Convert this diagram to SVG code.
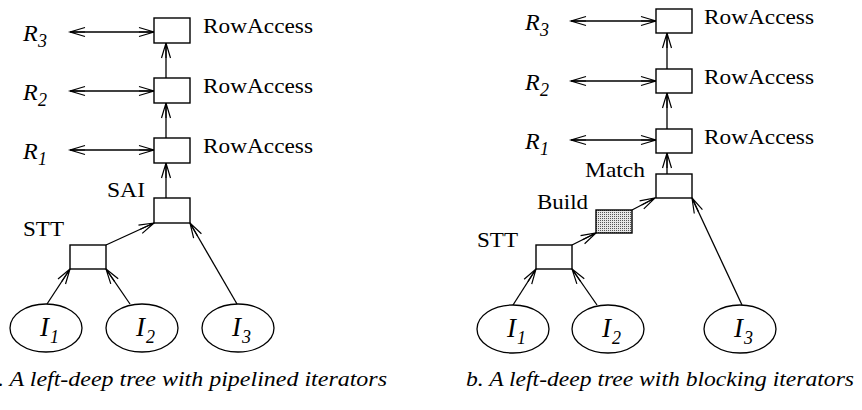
<svg xmlns="http://www.w3.org/2000/svg" width="862" height="410" viewBox="0 0 862 410">
<style>
.box{fill:#fff;stroke:#000;stroke-width:1.4}
.ell{fill:#fff;stroke:#000;stroke-width:1.3}
.con{fill:none;stroke:#000;stroke-width:1.3}
.arr{marker-end:url(#ah)}
.dbl{marker-start:url(#ah);marker-end:url(#ah)}
.t{font-size:22px}
.it{font-size:24px;font-style:italic}
.big{font-size:27px;font-style:italic}
.sub{font-size:18px;font-style:italic}
.cap{font-size:22px;font-style:italic}
</style>
<defs>
<marker id="ah" markerUnits="userSpaceOnUse" markerWidth="20" markerHeight="12" refX="0" refY="0" viewBox="-16 -6 20 12" orient="auto-start-reverse" overflow="visible">
<path d="M-15,-4.5 L0,0 L-15,4.5 M-15,0 L0,0" fill="none" stroke="#000" stroke-width="1.2"/>
</marker>
<pattern id="dots" width="2" height="2" patternUnits="userSpaceOnUse">
<rect width="2" height="2" fill="#e6e6e6"/>
<rect width="1" height="1" fill="#555"/>
</pattern>
</defs>
<rect width="862" height="410" fill="#fff"/>

<g id="connectors">
<line class="con dbl" x1="70" y1="32" x2="154" y2="32"/>
<line class="con dbl" x1="70" y1="91" x2="154" y2="91"/>
<line class="con dbl" x1="70" y1="150" x2="154" y2="150"/>
<line class="con arr" x1="166" y1="78" x2="166" y2="43"/>
<line class="con arr" x1="166" y1="138" x2="166" y2="103"/>
<line class="con arr" x1="166" y1="198" x2="166" y2="163"/>
<line class="con arr" x1="106" y1="245" x2="154" y2="223"/>
<line class="con arr" x1="237" y1="304" x2="190" y2="223"/>
<line class="con arr" x1="47" y1="304" x2="70" y2="269"/>
<line class="con arr" x1="130" y1="304" x2="106" y2="269"/>
<line class="con dbl" x1="571" y1="21" x2="656" y2="21"/>
<line class="con dbl" x1="571" y1="81" x2="656" y2="81"/>
<line class="con dbl" x1="571" y1="140" x2="656" y2="140"/>
<line class="con arr" x1="667" y1="69" x2="667" y2="33"/>
<line class="con arr" x1="667" y1="129" x2="667" y2="93"/>
<line class="con arr" x1="667" y1="174" x2="667" y2="153"/>
<line class="con arr" x1="632" y1="210" x2="655" y2="198"/>
<line class="con arr" x1="572" y1="245" x2="596" y2="233"/>
<line class="con arr" x1="742" y1="305" x2="692" y2="198"/>
<line class="con arr" x1="513" y1="305" x2="536" y2="269"/>
<line class="con arr" x1="597" y1="305" x2="572" y2="269"/>
</g>

<g font-family="Liberation Serif, Times New Roman, Times, DejaVu Serif, serif" fill="#000">
<g id="a-R3"><text class="it" x="23" y="41">R</text><text class="sub" x="38" y="47">3</text></g>
<g id="a-R2"><text class="it" x="23" y="100">R</text><text class="sub" x="38" y="106">2</text></g>
<g id="a-R1"><text class="it" x="23" y="159">R</text><text class="sub" x="38" y="165">1</text></g>
<g id="a-ra3"><rect class="box" x="154" y="18" width="36" height="25"/><text class="t" x="203" y="33" textLength="110" lengthAdjust="spacingAndGlyphs">RowAccess</text></g>
<g id="a-ra2"><rect class="box" x="154" y="78" width="36" height="25"/><text class="t" x="203" y="93" textLength="110" lengthAdjust="spacingAndGlyphs">RowAccess</text></g>
<g id="a-ra1"><rect class="box" x="154" y="138" width="36" height="25"/><text class="t" x="203" y="153" textLength="110" lengthAdjust="spacingAndGlyphs">RowAccess</text></g>
<g id="a-sai"><rect class="box" x="154" y="198" width="36" height="25"/><text class="t" x="107" y="197" textLength="38" lengthAdjust="spacingAndGlyphs">SAI</text></g>
<g id="a-stt"><rect class="box" x="70" y="245" width="36" height="24"/><text class="t" x="23" y="236" textLength="41" lengthAdjust="spacingAndGlyphs">STT</text></g>
<g id="a-I1"><ellipse class="ell" cx="46" cy="328" rx="36" ry="24"/><text class="big" x="40" y="336">I</text><text class="sub" x="50" y="343">1</text></g>
<g id="a-I2"><ellipse class="ell" cx="142" cy="328" rx="36" ry="24"/><text class="big" x="136" y="336">I</text><text class="sub" x="146" y="343">2</text></g>
<g id="a-I3"><ellipse class="ell" cx="238" cy="328" rx="36" ry="24"/><text class="big" x="232" y="336">I</text><text class="sub" x="242" y="343">3</text></g>
<g id="a-caption"><text class="cap" x="-14" y="386" textLength="401" lengthAdjust="spacingAndGlyphs">a. A left-deep tree with pipelined iterators</text></g>

<g id="b-R3"><text class="it" x="525" y="30">R</text><text class="sub" x="540" y="36">3</text></g>
<g id="b-R2"><text class="it" x="525" y="90">R</text><text class="sub" x="540" y="96">2</text></g>
<g id="b-R1"><text class="it" x="525" y="149">R</text><text class="sub" x="540" y="155">1</text></g>
<g id="b-ra3"><rect class="box" x="656" y="9" width="36" height="24"/><text class="t" x="704" y="24" textLength="110" lengthAdjust="spacingAndGlyphs">RowAccess</text></g>
<g id="b-ra2"><rect class="box" x="656" y="69" width="36" height="24"/><text class="t" x="704" y="84" textLength="110" lengthAdjust="spacingAndGlyphs">RowAccess</text></g>
<g id="b-ra1"><rect class="box" x="656" y="129" width="36" height="24"/><text class="t" x="704" y="144" textLength="110" lengthAdjust="spacingAndGlyphs">RowAccess</text></g>
<g id="b-match"><rect class="box" x="656" y="174" width="36" height="24"/><text class="t" x="585" y="177" textLength="60" lengthAdjust="spacingAndGlyphs">Match</text></g>
<g id="b-build"><rect x="596" y="210" width="36" height="23" fill="url(#dots)" stroke="#000" stroke-width="1.4"/><text class="t" x="537" y="209" textLength="51" lengthAdjust="spacingAndGlyphs">Build</text></g>
<g id="b-stt"><rect class="box" x="536" y="245" width="36" height="24"/><text class="t" x="477" y="247" textLength="41" lengthAdjust="spacingAndGlyphs">STT</text></g>
<g id="b-I1"><ellipse class="ell" cx="513" cy="329" rx="36" ry="24"/><text class="big" x="507" y="337">I</text><text class="sub" x="517" y="344">1</text></g>
<g id="b-I2"><ellipse class="ell" cx="608" cy="329" rx="36" ry="24"/><text class="big" x="602" y="337">I</text><text class="sub" x="612" y="344">2</text></g>
<g id="b-I3"><ellipse class="ell" cx="740" cy="329" rx="36" ry="24"/><text class="big" x="734" y="337">I</text><text class="sub" x="744" y="344">3</text></g>
<g id="b-caption"><text class="cap" x="466" y="386" textLength="388" lengthAdjust="spacingAndGlyphs">b. A left-deep tree with blocking iterators</text></g>
</g>
</svg>
